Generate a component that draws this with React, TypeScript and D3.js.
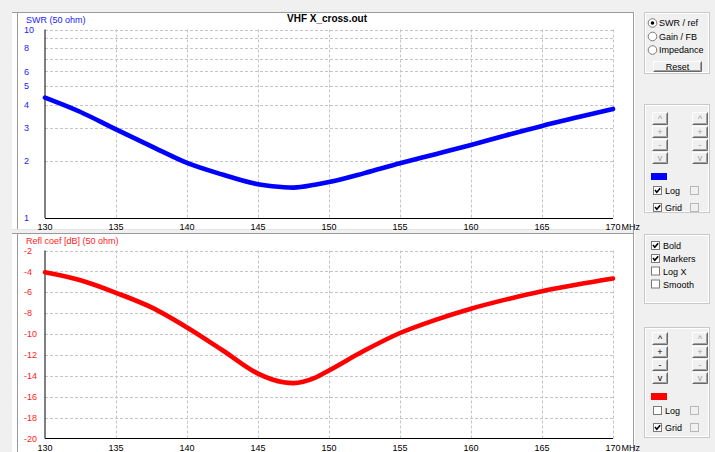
import React from "react";
import * as d3 from "d3";

// ---- data ----
const freqs = [130, 132.5, 135, 137.5, 140, 142.5, 145, 146, 147.5, 149, 150, 152.5, 155, 157.5, 160, 162.5, 165, 167.5, 170];
const swrValues = [4.35, 3.65, 2.95, 2.4, 1.96, 1.7, 1.51, 1.475, 1.45, 1.5, 1.55, 1.73, 1.95, 2.18, 2.44, 2.75, 3.08, 3.42, 3.79];
const reflValues = [-4.09, -4.85, -6.05, -7.45, -9.37, -11.55, -13.79, -14.35, -14.7, -14.2, -13.48, -11.58, -9.9, -8.64, -7.57, -6.68, -5.9, -5.26, -4.69];
const freqTicks = [130, 135, 140, 145, 150, 155, 160, 165, 170];
const swrTickLabels = [1, 2, 3, 4, 5, 6, 8, 10];
const swrGridValues = [2, 3, 4, 5, 6, 7, 8, 9, 10];
const reflTicks = [-2, -4, -6, -8, -10, -12, -14, -16, -18, -20];

const FONT = "'Liberation Sans', Arial, sans-serif";
const GRID = "#c4c4c4";

function Button({ x, y, w, h, label, enabled }: any) {
  return (
    <g>
      <rect x={x} y={y} width={w} height={h} fill="#f0f0f0" />
      <path d={`M${x + 0.5},${y + h - 0.5} V${y + 0.5} H${x + w - 0.5}`} stroke="#ffffff" fill="none" />
      <path d={`M${x + 0.5},${y + h - 0.5} H${x + w - 0.5} V${y + 0.5}`} stroke="#696969" fill="none" />
      <path d={`M${x + 1.5},${y + h - 1.5} H${x + w - 1.5} V${y + 1.5}`} stroke="#a0a0a0" fill="none" />
      <text x={x + w / 2} y={y + h / 2 + 3} textAnchor="middle" fontSize={9} fontFamily={FONT}
        fill={enabled ? "#000" : "#a0a0a0"}>{label}</text>
    </g>
  );
}

function CheckBox({ x, y, checked, label, disabled }: any) {
  return (
    <g>
      <rect x={x + 0.5} y={y + 0.5} width={8} height={8} fill={disabled ? "#f0f0f0" : "#fff"} stroke={disabled ? "#b8b8b8" : "#7a7a7a"} />
      {checked && <path d={`M${x + 2},${y + 4} L${x + 3.8},${y + 6.2} L${x + 7.2},${y + 2.2}`} stroke="#000" strokeWidth={1.6} fill="none" />}
      {label && <text x={x + 12} y={y + 8} fontSize={9} fontFamily={FONT} fill="#000">{label}</text>}
    </g>
  );
}

function Radio({ x, y, checked, label }: any) {
  return (
    <g>
      <circle cx={x} cy={y} r={4.3} fill="#fff" stroke="#7a7a7a" />
      {checked && <circle cx={x} cy={y} r={1.8} fill="#000" />}
      <text x={x + 6.5} y={y + 3} fontSize={9} fontFamily={FONT} fill="#000">{label}</text>
    </g>
  );
}

function GroupBox({ x, y, w, h }: any) {
  return (
    <g fill="none">
      <rect x={x + 0.5} y={y + 0.5} width={w} height={h} stroke="#c9c9c9" />
      <rect x={x + 1.5} y={y + 1.5} width={w - 2} height={h - 2} stroke="#ffffff" />
    </g>
  );
}

function ControlGroup({ y0, enabledLeft, swatch, logChecked }: any) {
  const rows = [
    { dy: 0, h: 13, label: "^" },
    { dy: 14, h: 12, label: "+" },
    { dy: 27, h: 12, label: "-" },
    { dy: 40, h: 12, label: "v" },
  ];
  return (
    <g>
      {rows.map((r, i) => (
        <g key={i}>
          <Button x={652} y={y0 + r.dy} w={16} h={r.h} label={r.label} enabled={enabledLeft} />
          <Button x={692} y={y0 + r.dy} w={16} h={r.h} label={r.label} enabled={false} />
        </g>
      ))}
      <rect x={651} y={y0 + 61} width={16} height={7} fill={swatch} />
      <CheckBox x={653} y={y0 + 74} checked={logChecked} label="Log" />
      <CheckBox x={690} y={y0 + 74} checked={false} disabled />
      <CheckBox x={653} y={y0 + 91} checked={true} label="Grid" />
      <CheckBox x={690} y={y0 + 91} checked={false} disabled />
    </g>
  );
}

export default function App() {
  const x = d3.scaleLinear().domain([130, 170]).range([45, 613]);
  const ySwr = d3.scaleLog().domain([1, 10]).range([218, 29.5]);
  const yRefl = d3.scaleLinear().domain([-20, -2]).range([438.5, 250.5]);

  const swrLine = d3.line<number>().x((_, i) => x(freqs[i])).y((d) => ySwr(d)).curve(d3.curveMonotoneX);
  const reflLine = d3.line<number>().x((_, i) => x(freqs[i])).y((d) => yRefl(d)).curve(d3.curveMonotoneX);

  const xAxisLabels = (yBase: number) => (
    <g fontSize={9} fontFamily={FONT} fill="#000">
      {freqTicks.map((f) => (
        <text key={f} x={x(f)} y={yBase} textAnchor="middle">{f}</text>
      ))}
      <text x={x(170) + 8.5} y={yBase} textAnchor="start">MHz</text>
    </g>
  );

  return (
    <svg width={715} height={452} style={{ position: "fixed", left: 0, top: 0 }} shapeRendering="auto">
      <rect x={0} y={0} width={715} height={452} fill="#f0f0f0" />

      {/* top panel */}
      <rect x={12} y={12} width={621} height={217.5} fill="#ffffff" />
      <line x1={12} x2={633} y1={12.5} y2={12.5} stroke="#9a9a9a" />
      <line x1={17.5} x2={17.5} y1={12} y2={229.5} stroke="#9a9a9a" />
      {/* bottom panel */}
      <rect x={12} y={233} width={621} height={219} fill="#ffffff" />
      <line x1={12} x2={633} y1={233.5} y2={233.5} stroke="#9a9a9a" />
      <line x1={17.5} x2={17.5} y1={233} y2={452} stroke="#9a9a9a" />
      <line x1={12} x2={633} y1={229.5} y2={229.5} stroke="#e3e3e3" />
      {/* right separator */}
      <line x1={633.5} x2={633.5} y1={12} y2={452} stroke="#a0a0a0" />
      <line x1={634.5} x2={634.5} y1={12} y2={452} stroke="#ffffff" />

      {/* ---------- SWR chart ---------- */}
      <g stroke={GRID} strokeDasharray="3 2" strokeWidth={1}>
        {freqTicks.slice(1).map((f) => (
          <line key={f} x1={Math.round(x(f)) + 0.5} x2={Math.round(x(f)) + 0.5} y1={ySwr(10)} y2={ySwr(1)} />
        ))}
        {swrGridValues.map((v) => (
          <line key={v} x1={x(130)} x2={x(170)} y1={Math.round(ySwr(v)) + 0.5} y2={Math.round(ySwr(v)) + 0.5} />
        ))}
      </g>
      <line x1={x(130)} x2={x(130)} y1={ySwr(10)} y2={ySwr(1)} stroke="#000" strokeWidth={1} />
      <line x1={x(130)} x2={x(170)} y1={ySwr(1) + 0.5} y2={ySwr(1) + 0.5} stroke="#000" strokeWidth={1} />
      <path d={swrLine(swrValues) || ""} fill="none" stroke="#0000ff" strokeWidth={4.6} strokeLinejoin="round" strokeLinecap="round" />
      <g fontSize={9} fontFamily={FONT} fill="#1a1aff">
        {swrTickLabels.map((v) => (
          <text key={v} x={24} y={ySwr(v) + 3.2} textAnchor="start">{v}</text>
        ))}
        <text x={26} y={23}>SWR (50 ohm)</text>
      </g>
      <text x={327} y={22} textAnchor="middle" fontSize={10} fontWeight="bold" fontFamily={FONT} fill="#000">VHF X_cross.out</text>
      {xAxisLabels(229.5)}

      {/* ---------- Refl coef chart ---------- */}
      <g stroke={GRID} strokeDasharray="3 2" strokeWidth={1}>
        {freqTicks.slice(1).map((f) => (
          <line key={f} x1={Math.round(x(f)) + 0.5} x2={Math.round(x(f)) + 0.5} y1={yRefl(-2)} y2={yRefl(-20)} />
        ))}
        {reflTicks.slice(0, -1).map((v) => (
          <line key={v} x1={x(130)} x2={x(170)} y1={Math.round(yRefl(v)) + 0.5} y2={Math.round(yRefl(v)) + 0.5} />
        ))}
      </g>
      <line x1={x(130)} x2={x(130)} y1={yRefl(-2)} y2={yRefl(-20)} stroke="#000" strokeWidth={1} />
      <line x1={x(130)} x2={x(170)} y1={yRefl(-20)} y2={yRefl(-20)} stroke="#000" strokeWidth={1} />
      <path d={reflLine(reflValues) || ""} fill="none" stroke="#ff0000" strokeWidth={4.6} strokeLinejoin="round" strokeLinecap="round" />
      <g fontSize={9} fontFamily={FONT} fill="#ff1a1a">
        {reflTicks.map((v) => (
          <text key={v} x={24} y={yRefl(v) + 3.2} textAnchor="start">{v}</text>
        ))}
        <text x={26} y={244}>Refl coef [dB] (50 ohm)</text>
      </g>
      {xAxisLabels(450.5)}

      {/* ---------- right controls ---------- */}
      <GroupBox x={644} y={12} w={65} h={61} />
      <Radio x={652.5} y={23} checked={true} label="SWR / ref" />
      <Radio x={652.5} y={36.5} checked={false} label="Gain / FB" />
      <Radio x={652.5} y={50} checked={false} label="Impedance" />
      <Button x={653} y={61} w={49} h={11} label="Reset" enabled={true} />

      <GroupBox x={644} y={104} w={65} h={108} />
      <ControlGroup y0={112} enabledLeft={false} swatch="#0000ff" logChecked={true} />

      <GroupBox x={644} y={234} w={65} h={69} />
      <CheckBox x={651} y={241} checked={true} label="Bold" />
      <CheckBox x={651} y={254} checked={true} label="Markers" />
      <CheckBox x={651} y={266.5} checked={false} label="Log X" />
      <CheckBox x={651} y={279.5} checked={false} label="Smooth" />

      <GroupBox x={644} y={327} w={65} h={110} />
      <ControlGroup y0={332} enabledLeft={true} swatch="#ff0000" logChecked={false} />
    </svg>
  );
}
